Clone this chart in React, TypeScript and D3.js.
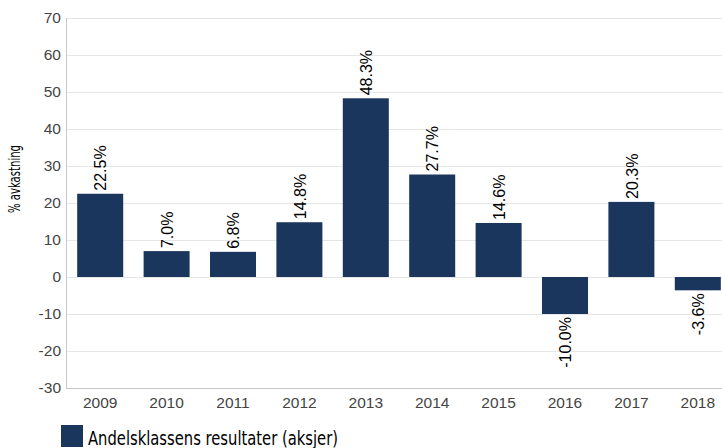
import React from "react";
import * as d3 from "d3";

const categories = ["2009", "2010", "2011", "2012", "2013", "2014", "2015", "2016", "2017", "2018"];
const values = [22.5, 7.0, 6.8, 14.8, 48.3, 27.7, 14.6, -10.0, 20.3, -3.6];
const yTicks = [-30, -20, -10, 0, 10, 20, 30, 40, 50, 60, 70];
const seriesName = "Andelsklassens resultater (aksjer)";
const yTitle = "% avkastning";

const W = 722, H = 448;
const left = 67, right = 731, top = 18, bottom = 388;
const color = "#1b365d";
const font = "Liberation Sans, Arial, sans-serif";
const narrow = "'DejaVu Sans', sans-serif";

export default function App() {
  const x = d3.scaleBand<string>().domain(categories).range([left, right]).paddingInner(0.307).paddingOuter(0.1535);
  const y = d3.scaleLinear().domain([-30, 70]).range([bottom, top]);
  const bw = x.bandwidth();
  return (
    <svg width={W} height={H} style={{ display: "block", position: "absolute", left: 0, top: 0 }}>
      <rect width={W} height={H} fill="#fff" />
      {yTicks.map((t) => (
        <g key={t}>
          <line x1={left} x2={W} y1={y(t) + 0.5} y2={y(t) + 0.5} stroke={t === -30 ? "#c8c8c8" : "#e6e6e6"} strokeWidth={1} />
          <text x={61} y={y(t)} dy="0.35em" textAnchor="end" fontFamily={font} fontSize={15.5} fill="#444">{t}</text>
        </g>
      ))}
      <line x1={left - 0.5} x2={left - 0.5} y1={top} y2={bottom + 1} stroke="#c8c8c8" />
      {categories.map((c, i) => {
        const v = values[i];
        const cx = x(c)! + bw / 2;
        const y0 = y(Math.max(0, v));
        const y1 = y(Math.min(0, v));
        const ly = v >= 0 ? y0 - 3 : y1 + 3;
        return (
          <g key={c}>
            <rect x={x(c)!} y={y0} width={bw} height={y1 - y0} fill={color} />
            <text transform={`translate(${cx + 0.5},${ly}) rotate(-90)`} textAnchor={v >= 0 ? "start" : "end"} dy="0.35em" fontFamily={font} fontSize={16} fill="#000">{v.toFixed(1)}%</text>
            <text x={cx} y={bottom + 20} textAnchor="middle" fontFamily={font} fontSize={15.5} fill="#444">{c}</text>
          </g>
        );
      })}
      <text transform={`translate(20,179) rotate(-90)`} textAnchor="middle" fontFamily={narrow} fontSize={16.5} textLength={68} lengthAdjust="spacingAndGlyphs" fill="#000">{yTitle}</text>
      <rect x={61} y={425} width={22} height={22} fill={color} />
      <text x={88} y={445} fontFamily={narrow} fontSize={19} textLength={250} lengthAdjust="spacingAndGlyphs" fill="#000">{seriesName}</text>
    </svg>
  );
}
